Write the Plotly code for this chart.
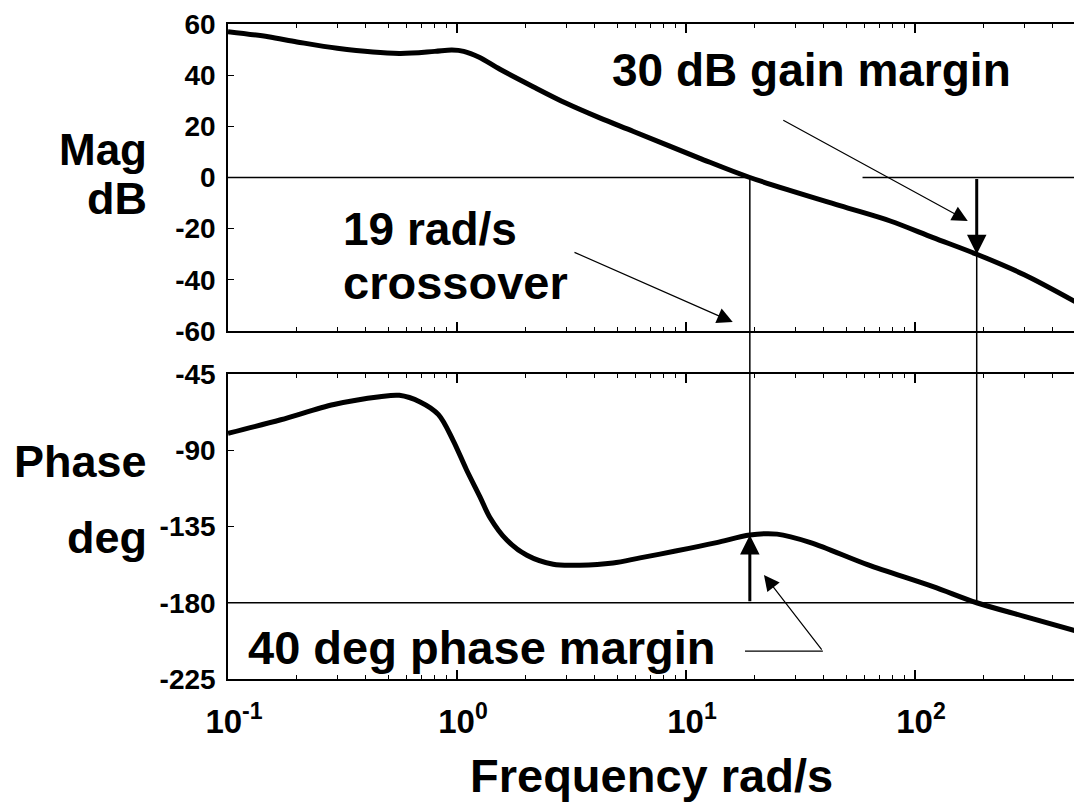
import math
import plotly.graph_objects as go

# Open-loop frequency response
freq_mag = [0.1, 0.15, 0.2, 0.3, 0.56, 0.8, 0.95, 1.07, 1.25, 1.54, 2.15, 3.0, 4.2, 5.9,
            11.5, 19, 47, 78, 120, 186, 300, 500]
mag_db = [57, 55, 53, 50.5, 48.5, 49.3, 49.8, 49.3, 47, 42.3, 35.5, 29, 23.3, 18,
          7.5, 0, -11, -17, -23.5, -30, -38, -48.5]

freq_phase = [0.1, 0.17, 0.29, 0.46, 0.56, 0.69, 0.83, 0.96, 1.1, 1.26, 1.39, 1.65,
              2.02, 2.63, 3.44, 4.8, 6.3, 9.0, 13.6, 19, 25, 35, 62, 120, 186, 300, 500]
phase_deg = [-80, -72, -63, -58.4, -57.6, -61.5, -69, -84, -101.5, -117.5, -129.5, -143,
             -152, -157.3, -157.8, -156.5, -153.5, -149.5, -144.5, -140, -139.5, -144.5,
             -157.5, -170.5, -180, -188, -196.5]

# Stability margins
crossover_freq = 19        # rad/s, |L| = 0 dB
phase_margin = 40          # deg
phase_cross_freq = 186     # rad/s, phase = -180 deg
gain_margin = 30           # dB

mag_ticks = [-60, -40, -20, 0, 20, 40, 60]
phase_ticks = [-225, -180, -135, -90, -45]
freq_ticks = [0.1, 1, 10, 100]
freq_ticktext = ["10<sup>-1</sup>", "10<sup>0</sup>", "10<sup>1</sup>", "10<sup>2</sup>"]

# Page geometry
W, H = 1074, 804
ML, MT, MB = 228, 24, 125
PW, PH = W - ML, H - MT - MB
DECADE_PX = 229
XMIN = -1
XMAX = XMIN + PW / DECADE_PX
TOP_DOM = [(H - MB - 331) / PH, 1.0]
BOT_DOM = [0.0, (H - MB - 374) / PH]
MAG_RANGE = [-60, 60]
PHASE_RANGE = [-225, -45]


def px_x(px):
    return (px - ML) / PW


def px_y(py):
    return (H - MB - py) / PH


def fx(v):
    return (math.log10(v) - XMIN) / (XMAX - XMIN)


def ytop(v):
    return TOP_DOM[0] + (v - MAG_RANGE[0]) / (MAG_RANGE[1] - MAG_RANGE[0]) * (TOP_DOM[1] - TOP_DOM[0])


def ybot(v):
    return BOT_DOM[0] + (v - PHASE_RANGE[0]) / (PHASE_RANGE[1] - PHASE_RANGE[0]) * (BOT_DOM[1] - BOT_DOM[0])


minor_vals = [m * 10 ** e for e in (-1, 0, 1, 2) for m in range(2, 10) if m * 10 ** e <= 500]

FONT = "Liberation Sans, Arial, sans-serif"

fig = go.Figure()
fig.add_trace(go.Scatter(x=freq_mag, y=mag_db, mode="lines", xaxis="x", yaxis="y",
                         line=dict(color="black", width=5, shape="spline", smoothing=0.9),
                         showlegend=False, hoverinfo="skip"))
fig.add_trace(go.Scatter(x=freq_phase, y=phase_deg, mode="lines", xaxis="x2", yaxis="y2",
                         line=dict(color="black", width=5, shape="spline", smoothing=0.9),
                         showlegend=False, hoverinfo="skip"))

xcommon = dict(type="log", range=[XMIN, XMAX], showgrid=False, zeroline=False,
               showline=True, linecolor="black", linewidth=1.5, mirror="allticks",
               ticks="inside", ticklen=9, tickwidth=1.5, tickcolor="black",
               tickvals=freq_ticks,
               minor=dict(ticks="inside", ticklen=4, tickwidth=1.2, tickcolor="black",
                          tickvals=minor_vals, showgrid=False))
ycommon = dict(showgrid=False, zeroline=False, showline=True, linecolor="black",
               linewidth=1.5, ticks="inside", ticklen=6, tickwidth=1.2, tickcolor="black",
               tickfont=dict(size=28, family=FONT, color="black", weight="bold"),
               ticklabelstandoff=5)

fig.update_layout(
    width=W, height=H,
    margin=dict(l=ML, r=0, t=MT, b=MB),
    paper_bgcolor="white", plot_bgcolor="white",
    font=dict(family=FONT, color="black", weight="bold"),
    xaxis=dict(xcommon, domain=[0, 1], anchor="y", showticklabels=False),
    yaxis=dict(ycommon, domain=TOP_DOM, anchor="x", range=MAG_RANGE,
               tickvals=mag_ticks, ticktext=[str(t) for t in mag_ticks]),
    xaxis2=dict(xcommon, domain=[0, 1], anchor="y2", showticklabels=True,
                ticktext=freq_ticktext, ticklabelstandoff=13, ticklabelshift=6,
                tickfont=dict(size=33, family=FONT, color="black", weight="bold")),
    yaxis2=dict(ycommon, domain=BOT_DOM, anchor="x2", range=PHASE_RANGE,
                tickvals=phase_ticks, ticktext=[str(t) for t in phase_ticks]),
)

thin = dict(color="black", width=1.5)
shapes = [
    # 0 dB reference (interrupted where the label arrow passes)
    dict(type="line", xref="paper", yref="y", x0=0, x1=fx(crossover_freq), y0=0, y1=0, line=thin),
    dict(type="line", xref="paper", yref="y", x0=fx(59), x1=1, y0=0, y1=0, line=thin),
    # -180 deg reference
    dict(type="line", xref="paper", yref="y2", x0=0, x1=1, y0=-180, y1=-180, line=thin),
    # crossover frequency marker: 0 dB down to the phase curve
    dict(type="line", xref="paper", yref="paper", x0=fx(crossover_freq), x1=fx(crossover_freq),
         y0=ytop(0), y1=ybot(-180 + phase_margin), line=thin),
    # phase-crossover marker: magnitude curve down to -180 deg
    dict(type="line", xref="paper", yref="paper", x0=fx(phase_cross_freq), x1=fx(phase_cross_freq),
         y0=ytop(-gain_margin), y1=ybot(-180), line=thin),
    # leader for the phase margin label
    dict(type="line", xref="paper", yref="y2", x0=fx(18.1), x1=fx(39.6),
         y0=-208.5, y1=-208.5, line=dict(color="black", width=1.2)),
]
fig.update_layout(shapes=shapes)

big = dict(family=FONT, size=46, color="black", weight="bold")
ann = []


def text(s, px, py, xanchor="left", size=46):
    ann.append(dict(text=s, xref="paper", yref="paper", x=px_x(px), y=px_y(py),
                    xanchor=xanchor, yanchor="middle", showarrow=False,
                    font=dict(big, size=size)))


text("Mag", 149, 149, "right", 44)
text("dB", 149, 198, "right", 45)
text("Phase", 149, 461, "right", 45)
text("deg", 149, 537, "right", 45)
text("30 dB gain margin", 811, 70, "center")
text("19 rad/s", 341, 229)
text("crossover", 341, 282, size=47)
text("40 deg phase margin", 246, 647, size=47)
text("Frequency rad/s", 651, 775, "center", 47)


def arrow(xr, yr, x_tip, y_tip, x_tail, y_tail, width, size, head=2):
    ann.append(dict(text="", xref=xr, yref=yr, axref=xr, ayref=yr,
                    x=math.log10(x_tip), y=y_tip, ax=math.log10(x_tail), ay=y_tail,
                    showarrow=True, arrowhead=head, arrowwidth=width, arrowsize=size,
                    arrowcolor="black", standoff=0, startstandoff=0))


# margin arrows
arrow("x", "y", phase_cross_freq, -gain_margin, phase_cross_freq, 0, 3, 1.3)
arrow("x2", "y2", crossover_freq, -180 + phase_margin, crossover_freq, -180, 3, 1.3)
# label pointers
arrow("x", "y", 170, -17, 26.2, 22.7, 1.2, 2.6)
arrow("x", "y", 16, -56.5, 3.21, -29, 1.2, 2.6)
arrow("x2", "y2", 21.9, -163.6, 39.6, -208.5, 1.2, 2.6)

fig.update_layout(annotations=ann)
fig.write_html("out.html")
